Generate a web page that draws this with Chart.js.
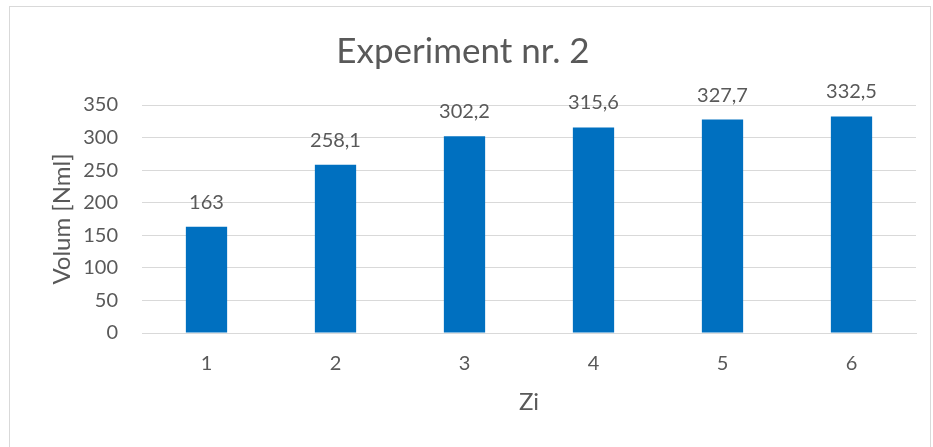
<!DOCTYPE html>
<html>
<head>
<meta charset="utf-8">
<script src="https://cdn.jsdelivr.net/npm/chart.js@4.4.1/dist/chart.umd.min.js"></script>
<style>
  html, body { margin: 0; padding: 0; background: #fff; }
  #frame {
    position: absolute; left: 9px; top: 6px;
    width: 920px; height: 460px;
    border: 1px solid #d9d9d9;
  }
  #wrap { position: absolute; left: 0; top: 0; width: 920px; height: 440px; }
</style>
</head>
<body>
<div id="frame"><div id="wrap"><canvas id="expChart"></canvas></div></div>
<script>
// data
const days = ['1', '2', '3', '4', '5', '6'];
const volumes = [163, 258.1, 302.2, 315.6, 327.7, 332.5];
const yTicks = [0, 50, 100, 150, 200, 250, 300, 350];

const textColor = '#595959';
const fontFamily = 'Lato, "Open Sans", sans-serif';

// value labels above the bars, comma as decimal separator
const barLabels = {
  id: 'barLabels',
  afterDatasetsDraw(chart) {
    const ctx = chart.ctx;
    const meta = chart.getDatasetMeta(0);
    ctx.save();
    ctx.font = '20px ' + fontFamily;
    ctx.fillStyle = textColor;
    ctx.textAlign = 'center';
    ctx.textBaseline = 'alphabetic';
    meta.data.forEach((bar, i) => {
      ctx.fillText(String(volumes[i]).replace('.', ','), bar.x, bar.y - 18);
    });
    ctx.restore();
  }
};

const chartConfig = {
  type: 'bar',
  data: {
    labels: days,
    datasets: [{
      data: volumes,
      backgroundColor: '#0070C0',
      barPercentage: 0.32,
      categoryPercentage: 1
    }]
  },
  options: {
    responsive: true,
    maintainAspectRatio: false,
    animation: false,
    layout: { padding: { left: 0, right: 14, top: 0, bottom: 0 } },
    plugins: {
      legend: { display: false },
      tooltip: { enabled: false },
      title: {
        display: true,
        text: 'Experiment nr. 2',
        color: textColor,
        font: { family: fontFamily, size: 35, weight: 'normal' },
        padding: { top: 24, bottom: 32 }
      }
    },
    scales: {
      x: {
        grid: { display: false },
        border: { display: true, color: '#d9d9d9', width: 1 },
        ticks: { color: textColor, font: { family: fontFamily, size: 20 }, padding: 11 },
        title: {
          display: true, text: 'Zi', color: textColor,
          font: { family: fontFamily, size: 24 },
          padding: { top: 0, bottom: 30 }
        },
        afterFit(scale) { scale.height = 114; }
      },
      y: {
        min: 0,
        max: 350,
        afterBuildTicks(scale) { scale.ticks = yTicks.map(v => ({ value: v })); },
        grid: { color: '#d9d9d9', lineWidth: 1, drawTicks: false },
        border: { display: false },
        ticks: { color: textColor, font: { family: fontFamily, size: 20 }, padding: 24 },
        title: {
          display: true, text: 'Volum [Nml]', color: textColor,
          font: { family: fontFamily, size: 24 },
          padding: { top: 38, bottom: 0 }
        },
        afterFit(scale) { scale.width = 132; }
      }
    }
  },
  plugins: [barLabels]
};

const ctx = document.getElementById('expChart').getContext('2d');
new Chart(ctx, chartConfig);
</script>
</body>
</html>
